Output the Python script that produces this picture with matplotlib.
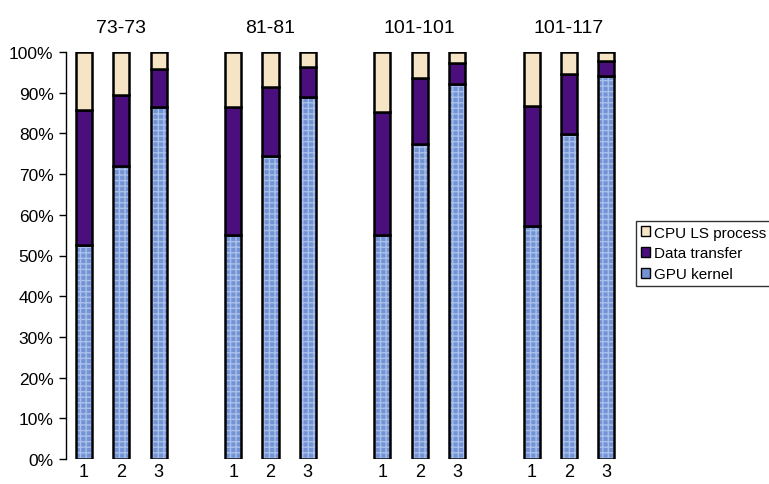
import numpy as np
import matplotlib
matplotlib.use('Agg')
import matplotlib.pyplot as plt
from matplotlib.patches import Patch

plt.rcParams['font.family'] = ['Liberation Sans', 'DejaVu Sans']

groups = ['73-73', '81-81', '101-101', '101-117']
configs = ['1', '2', '3']
# cumulative percent boundaries
gpu_kernel = [52.6, 72.0, 86.6, 55.0, 74.4, 88.9, 55.0, 77.4, 92.2, 57.2, 79.9, 94.1]
data_top   = [85.7, 89.4, 95.9, 86.5, 91.4, 96.3, 85.3, 93.6, 97.3, 86.7, 94.6, 97.8]

data_transfer = [d - g for d, g in zip(data_top, gpu_kernel)]
cpu_ls = [100 - d for d in data_top]

c_gpu = '#7393d4'
c_data = '#4a0f7c'
c_cpu = '#f6e5c4'

fig = plt.figure(figsize=(7.69, 4.85), dpi=100)
ax = fig.add_axes([66/769, 25/485, 559/769, 407/485])

x = []
for gi in range(len(groups)):
    for ci in range(len(configs)):
        x.append(gi * 4 + ci)
x = np.array(x)
w = 0.43

# textured GPU segment
ax.bar(x, gpu_kernel, w, color=c_gpu, edgecolor='#aac0ec', hatch='+++', linewidth=0)
ax.bar(x, gpu_kernel, w, color='none', edgecolor='black', linewidth=1.8)
ax.bar(x, data_transfer, w, bottom=gpu_kernel, color=c_data, edgecolor='black', linewidth=1.8)
ax.bar(x, cpu_ls, w, bottom=data_top, color=c_cpu, edgecolor='black', linewidth=1.8)

ax.set_xlim(-0.48, 14.5)
ax.set_ylim(0, 100)
ax.set_yticks(np.arange(0, 101, 10))
ax.set_yticklabels([f'{v}%' for v in range(0, 101, 10)], fontsize=12.5)
ax.set_xticks(x)
ax.set_xticklabels(configs * len(groups), fontsize=13)
ax.tick_params(axis='x', length=0, pad=3)
ax.tick_params(axis='y', length=5, width=1, pad=4)
for s in ['top', 'right', 'bottom']:
    ax.spines[s].set_visible(False)
ax.spines['left'].set_linewidth(1)

for gi, g in enumerate(groups):
    ax.text(gi * 4 + 1, 104, g, ha='center', va='bottom', fontsize=14)

handles = [Patch(facecolor=c_cpu, edgecolor='black', label='CPU LS process'),
           Patch(facecolor=c_data, edgecolor='black', label='Data transfer'),
           Patch(facecolor=c_gpu, edgecolor='black', label='GPU kernel')]
fig.legend(handles=handles, loc='upper left', bbox_to_anchor=(636/769, 1 - 222/485),
           fontsize=11, frameon=True, fancybox=False, edgecolor='black',
           handlelength=0.6, handleheight=0.6, handletextpad=0.3,
           labelspacing=0.45, borderpad=0.3, borderaxespad=0)

fig.savefig('out.png', dpi=100)
